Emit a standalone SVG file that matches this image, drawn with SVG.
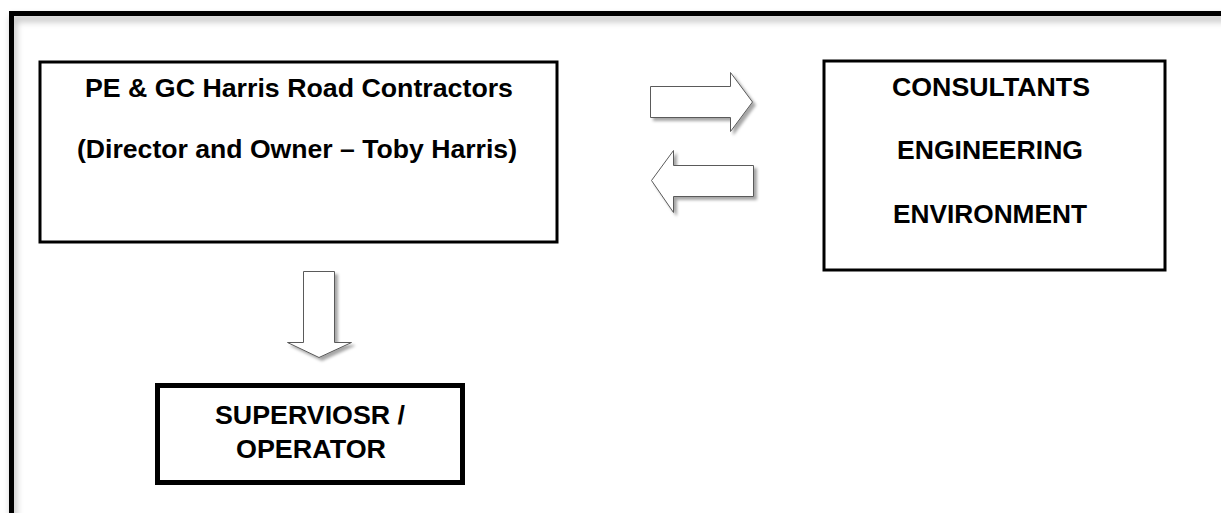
<svg xmlns="http://www.w3.org/2000/svg" width="1221" height="513" viewBox="0 0 1221 513">
<style>
.box{fill:#fff;stroke:#000;stroke-width:3}
.t{font-family:"Liberation Sans",Arial,sans-serif;font-weight:bold;font-size:26px;fill:#000;text-anchor:middle}
.arr{fill:#fff;stroke:#5a5a5a;stroke-width:1}
</style>
<defs>
<filter id="sh" x="-20%" y="-20%" width="150%" height="150%">
<feDropShadow dx="3" dy="3" stdDeviation="1.5" flood-color="#000" flood-opacity="0.35"/>
</filter>
<filter id="fsh" x="-5%" y="-5%" width="110%" height="110%">
<feDropShadow dx="2" dy="5" stdDeviation="3.5" flood-color="#000" flood-opacity="0.3"/>
</filter>
</defs>
<rect width="1221" height="513" fill="#fff"/>
<g id="frame">
<rect x="11.5" y="13.5" width="1220" height="520" fill="none" stroke="#000" stroke-width="5" filter="url(#fsh)"/>
</g>
<g id="contractors">
<rect class="box" x="40" y="62" width="517" height="180"/>
<text class="t" x="299" y="97" textLength="428" lengthAdjust="spacingAndGlyphs">PE &amp; GC Harris Road Contractors</text>
<text class="t" x="297" y="158" textLength="440" lengthAdjust="spacingAndGlyphs">(Director and Owner – Toby Harris)</text>
</g>
<g id="consultants">
<rect class="box" x="824" y="61" width="341" height="209"/>
<text class="t" x="991" y="96" textLength="198" lengthAdjust="spacingAndGlyphs">CONSULTANTS</text>
<text class="t" x="990" y="159" textLength="186" lengthAdjust="spacingAndGlyphs">ENGINEERING</text>
<text class="t" x="990" y="223" textLength="194" lengthAdjust="spacingAndGlyphs">ENVIRONMENT</text>
</g>
<g id="supervisor">
<rect x="157.5" y="385.5" width="305" height="97" fill="#fff" stroke="#000" stroke-width="5"/>
<text class="t" x="310" y="424" textLength="190" lengthAdjust="spacingAndGlyphs">SUPERVIOSR /</text>
<text class="t" x="311" y="458" textLength="150" lengthAdjust="spacingAndGlyphs">OPERATOR</text>
</g>
<g id="connectors">
<path class="arr" filter="url(#sh)" d="M650.5,86.5 H730.5 V72.5 L752.5,102 L730.5,131.5 V117.5 H650.5 Z"/>
<path class="arr" filter="url(#sh)" d="M651.5,180.5 L673.5,150.5 V165.5 H753.5 V196.5 H673.5 V212.5 Z"/>
<path class="arr" filter="url(#sh)" d="M303.5,271.5 H334.5 V342.5 H351.5 L319,357.5 L287.5,342.5 H303.5 Z"/>
</g>
</svg>
